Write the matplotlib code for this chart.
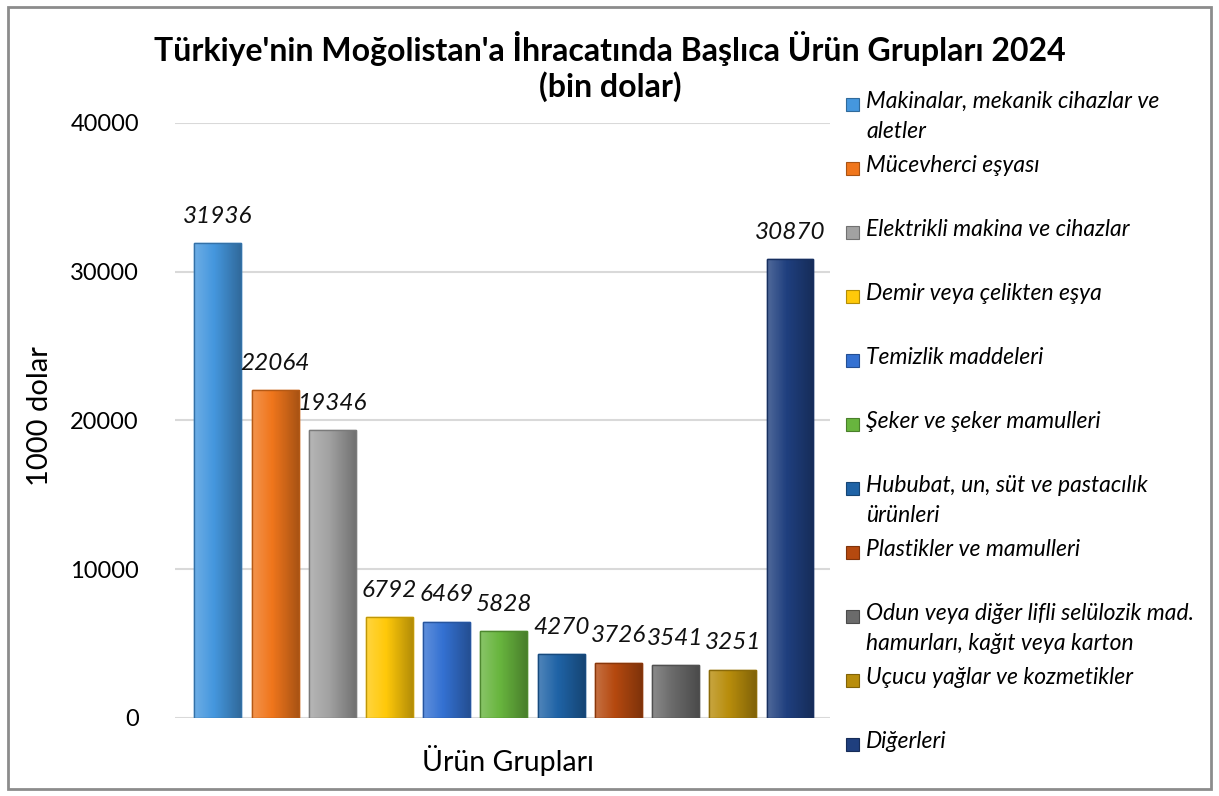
import matplotlib
matplotlib.use("Agg")
import matplotlib.pyplot as plt
from matplotlib.patches import Rectangle
import numpy as np

plt.rcParams['font.family'] = ['Lato', 'DejaVu Sans']

# data
categories = [
    "Makinalar, mekanik cihazlar ve\naletler",
    "Mücevherci eşyası",
    "Elektrikli makina ve cihazlar",
    "Demir veya çelikten eşya",
    "Temizlik maddeleri",
    "Şeker ve şeker mamulleri",
    "Hububat, un, süt ve pastacılık\nürünleri",
    "Plastikler ve mamulleri",
    "Odun veya diğer lifli selülozik mad.\nhamurları, kağıt veya karton",
    "Uçucu yağlar ve kozmetikler",
    "Diğerleri",
]
values = [31936, 22064, 19346, 6792, 6469, 5828, 4270, 3726, 3541, 3251, 30870]
colors = ['#4597de', '#f0761c', '#a2a2a2', '#ffc90a', '#3471d2', '#68b53e',
          '#1f63a6', '#b5490f', '#6b6b6b', '#b88d0c', '#1f3f7e']
yticks = [0, 10000, 20000, 30000, 40000]

W, H = 1219, 796
fig = plt.figure(figsize=(W / 100, H / 100), dpi=100)
ax = fig.add_axes([175 / W, 78 / H, 655 / W, 595 / H])

x = np.arange(len(values))
bars = ax.bar(x, values, width=0.82, color=colors, zorder=3)

# simple shading so the bars look a bit like the excel bevel
grad = np.linspace(0.22, -0.3, 64).reshape(1, -1)
for b, c in zip(bars, colors):
    b.set_edgecolor(matplotlib.colors.to_rgb(c))
    b.set_linewidth(1.0)
    x0, y0, w, h = b.get_x(), b.get_y(), b.get_width(), b.get_height()
    shade = np.zeros((1, 64, 4))
    shade[..., :3] = np.where(grad[..., None] > 0, 1.0, 0.0)
    shade[..., 3] = np.abs(grad)
    im = ax.imshow(shade, extent=[x0, x0 + w, y0, y0 + h], aspect='auto',
                   interpolation='bilinear', zorder=4)
    im.set_clip_path(b)
    ax.add_patch(Rectangle((x0, y0), w, h, fill=False,
                           edgecolor=np.array(matplotlib.colors.to_rgb(c)) * 0.75,
                           linewidth=1.0, zorder=5))
    ax.text(x0 + w / 2, y0 + h + 1800, str(int(h)), ha='center', va='center',
            fontsize=17.5, style='italic', color='#111111', zorder=6)

ax.set_xlim(-0.75, 10.7)
ax.set_ylim(0, 40000)
ax.set_yticks(yticks)
ax.set_yticklabels([str(t) for t in yticks], fontsize=17)
ax.set_xticks([])
ax.tick_params(axis='y', length=0, pad=26)
ax.grid(axis='y', color='#d9d9d9', linewidth=1.5, zorder=0)
for s in ax.spines.values():
    s.set_visible(False)

fig.text(40 / W, 1 - 416 / H, '1000 dolar', ha='center', va='center',
         rotation=90, fontsize=21)
fig.text(508 / W, 1 - 760 / H, 'Ürün Grupları', ha='center', va='center', fontsize=20.5)

fig.text(610 / W, 1 - 48 / H, "Türkiye'nin Moğolistan'a İhracatında Başlıca Ürün Grupları 2024",
         ha='center', va='center', fontsize=23, fontweight='bold')
fig.text(610 / W, 1 - 87 / H, "(bin dolar)", ha='center', va='center',
         fontsize=23, fontweight='bold')

# legend, placed by hand like the excel one
ys = np.linspace(105, 745, len(categories))
for yy, lab, c in zip(ys, categories, colors):
    fig.patches.append(Rectangle((846 / W, 1 - (yy + 6) / H), 13 / W, 13 / H,
                                 transform=fig.transFigure, facecolor=c,
                                 edgecolor=np.array(matplotlib.colors.to_rgb(c)) * 0.7,
                                 linewidth=0.8))
    fig.text(866 / W, 1 - (yy - 14) / H, lab, ha='left', va='top', fontsize=16.5,
             style='italic', linespacing=1.5)

# outer frame
fig.patches.append(Rectangle((8 / W, 7 / H), 1203 / W, 782 / H, transform=fig.transFigure,
                             fill=False, edgecolor='#8c8c8c', linewidth=2))

fig.savefig('out.png', dpi=100)
